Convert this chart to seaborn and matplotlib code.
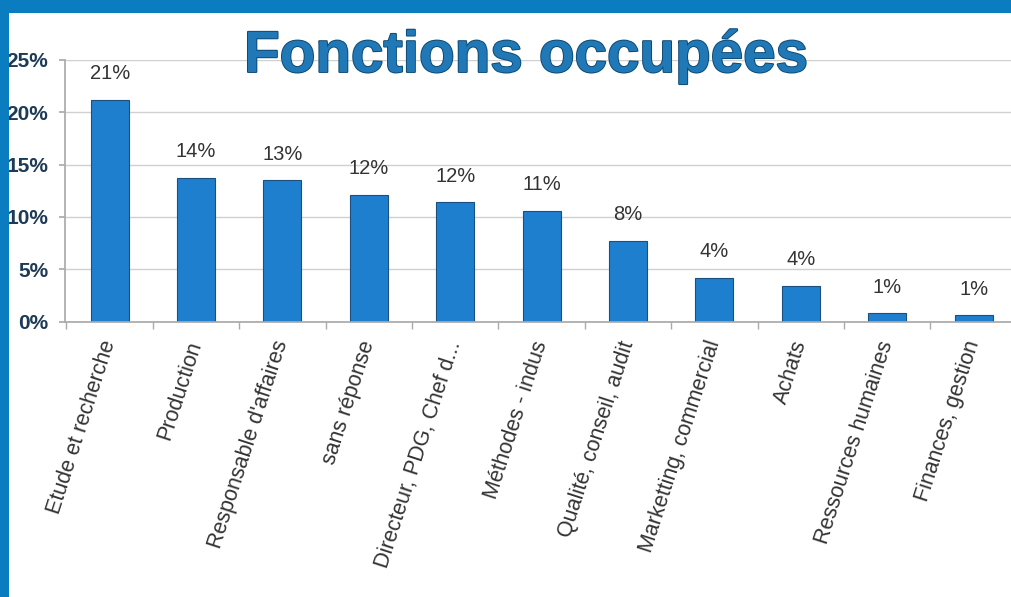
import matplotlib
matplotlib.use("Agg")
import matplotlib.pyplot as plt
import matplotlib.patheffects as pe
from matplotlib.patches import Rectangle
import seaborn as sns
import pandas as pd

categories = ["Etude et recherche", "Production", "Responsable d'affaires", "sans réponse",
              "Directeur, PDG, Chef d...", "Méthodes - indus", "Qualité, conseil, audit",
              "Marketting, commercial", "Achats", "Ressources humaines", "Finances, gestion"]
values = [21.2, 13.7, 13.5, 12.1, 11.4, 10.6, 7.7, 4.2, 3.4, 0.8, 0.6]
value_labels = ["21%", "14%", "13%", "12%", "12%", "11%", "8%", "4%", "4%", "1%", "1%"]
yticks = [0, 5, 10, 15, 20, 25]
ytick_labels = ["0%", "5%", "10%", "15%", "20%", "25%"]
title = "Fonctions occupées"

sns.set_theme(style="white")
plt.rcParams['font.family'] = ['Liberation Sans', 'DejaVu Sans']

df = pd.DataFrame({"cat": categories, "val": values})

fig = plt.figure(figsize=(10.12, 5.97), dpi=100)
ax = fig.add_axes([0.064, 0.461, 0.945, 0.439])

sns.barplot(data=df, x="cat", y="val", color="#1f7fcf", width=0.44,
            edgecolor="#1a4f80", linewidth=0.8, ax=ax, saturation=1)

ax.set_ylim(0, 25)
ax.set_xlim(-0.52, len(categories) - 0.45)
ax.set_yticks(yticks)
ax.set_yticklabels(ytick_labels, fontsize=15, fontweight="bold", color="#1d3a56")
ax.yaxis.grid(True, color="#d0d0d0", linewidth=1)
ax.set_axisbelow(True)
ax.set_xlabel("")
ax.set_ylabel("")
ax.set_xticks(range(len(categories)))
ax.set_xticklabels(categories, rotation=72, ha="right", va="center", rotation_mode="anchor",
                   fontsize=15.5, color="#333333")
ax.tick_params(axis="x", length=0, pad=14)
ax.tick_params(axis="y", length=4, color="#aaaaaa", left=True, pad=8)
for s in ["top", "right"]:
    ax.spines[s].set_visible(False)
ax.spines["left"].set_color("#aaaaaa")
ax.spines["bottom"].set_color("#aaaaaa")

# minor ticks at category boundaries
ax.set_xticks([i + 0.5 for i in range(-1, len(categories))], minor=True)
ax.tick_params(axis="x", which="minor", length=5, color="#aaaaaa", bottom=True)

for i, (v, lab) in enumerate(zip(values, value_labels)):
    ax.annotate(lab, (i, v), xytext=(0, 12), textcoords="offset points",
                ha="center", va="bottom", fontsize=14.5, color="#333333")

fig.text(0.52, 0.905, title, ha="center", va="center", fontsize=42, fontweight="bold",
         color="#2079b6",
         path_effects=[pe.withStroke(linewidth=1.4, foreground="#0d4a73")])

# slide frame
fig.patches.append(Rectangle((0, 0.978), 1, 0.022, transform=fig.transFigure,
                             facecolor="#0a7cc0", edgecolor="none", zorder=10))
fig.patches.append(Rectangle((0, 0), 0.009, 1, transform=fig.transFigure,
                             facecolor="#0a7cc0", edgecolor="none", zorder=10))

fig.savefig("out.png", dpi=100)
